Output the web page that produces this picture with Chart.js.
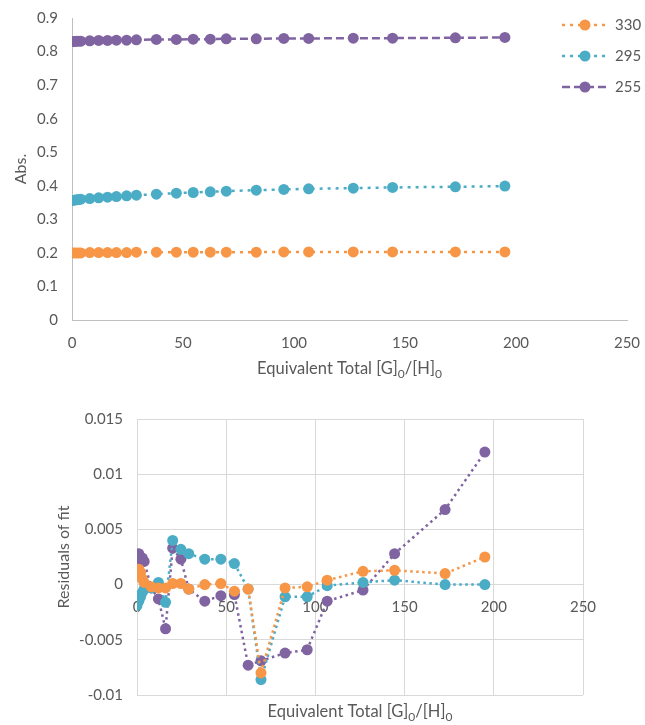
<!DOCTYPE html>
<html>
<head>
<meta charset="utf-8">
<script src="https://cdn.jsdelivr.net/npm/chart.js@4.4.0/dist/chart.umd.min.js"></script>
<style>
  html, body { margin: 0; padding: 0; background: #fff; }
  #wrap { position: relative; width: 645px; height: 725px; }
  canvas { position: absolute; left: 0; }
  #abs { top: 0; }
  #res { top: 385px; }
</style>
</head>
<body>
<div id="wrap">
  <canvas id="abs" width="645" height="385"></canvas>
  <canvas id="res" width="645" height="340"></canvas>
</div>
<script>
// wavelengths (nm) and their colours
const wavelengths = ["330", "295", "255"];
const colors = ["#F79646", "#4BACC6", "#8064A2"];

// equivalents of guest added
const equivalents = [0, 1, 2, 3, 4, 8, 12, 16, 20, 24.6, 29, 38, 47, 54.6, 62.3, 69.5, 83, 95.4, 106.6, 126.7, 144.4, 172.7, 195];

// absorbance readings
const abs330 = [0.200, 0.200, 0.200, 0.200, 0.200, 0.201, 0.201, 0.201, 0.201, 0.201, 0.202, 0.202, 0.202, 0.202, 0.202, 0.202, 0.202, 0.203, 0.203, 0.203, 0.203, 0.203, 0.203];
const abs295 = [0.356, 0.357, 0.358, 0.359, 0.360, 0.362, 0.364, 0.366, 0.368, 0.370, 0.372, 0.375, 0.378, 0.380, 0.382, 0.384, 0.387, 0.389, 0.391, 0.393, 0.395, 0.397, 0.399];
const abs255 = [0.830, 0.830, 0.831, 0.831, 0.831, 0.832, 0.833, 0.833, 0.834, 0.834, 0.835, 0.836, 0.836, 0.837, 0.837, 0.838, 0.838, 0.839, 0.839, 0.840, 0.840, 0.841, 0.842];

// residuals of the binding fit
const res330 = [0.0009, 0.0014, 0.0011, 0.0005, 0.0002, -0.0002, -0.0003, -0.0003, 0.0001, 0.0001, -0.0004, 0.0000, 0.0001, -0.0006, -0.0004, -0.0080, -0.0003, -0.0002, 0.0004, 0.0012, 0.0013, 0.0010, 0.0025];
const res295 = [-0.0019, -0.0015, -0.0011, -0.0007, -0.0004, -0.0003, 0.0002, -0.0016, 0.0040, 0.0032, 0.0028, 0.0023, 0.0023, 0.0019, -0.0004, -0.0086, -0.0011, -0.0011, -0.0001, 0.0002, 0.0004, 0.0000, 0.0000];
const res255 = [0.0027, 0.0028, 0.0022, 0.0024, 0.0021, -0.0003, -0.0013, -0.0040, 0.0033, 0.0023, -0.0004, -0.0015, -0.0010, -0.0009, -0.0073, -0.0069, -0.0062, -0.0059, -0.0015, -0.0005, 0.0028, 0.0068, 0.0120];

const FONT = "Lato";
const GREY = "#595959";

const toPoints = ys => equivalents.map((x, i) => ({ x: x, y: ys[i] }));

// plain number labels, no trailing zeros
const plainTick = v => String(Math.round(v * 1e6) / 1e6);

function makeSet(i, ys, dash, width) {
  return {
    label: wavelengths[i],
    data: toPoints(ys),
    showLine: true,
    borderColor: colors[i],
    backgroundColor: colors[i],
    borderWidth: width,
    borderDash: dash,
    pointRadius: 5.5,
    pointHoverRadius: 5.5,
    pointBorderWidth: 0,
    pointBackgroundColor: colors[i],
  };
}

// text with subscript pieces, centred on (cx, cy)
function drawParts(ctx, parts, cx, cy, size) {
  const big = size + "px " + FONT;
  const small = Math.round(size * 0.7) + "px " + FONT;
  let w = 0;
  parts.forEach(p => { ctx.font = p.sub ? small : big; w += ctx.measureText(p.t).width; });
  let x = cx - w / 2;
  ctx.textAlign = "left";
  ctx.textBaseline = "middle";
  parts.forEach(p => {
    ctx.font = p.sub ? small : big;
    ctx.fillText(p.t, x, cy + (p.sub ? 5 : 0));
    x += ctx.measureText(p.t).width;
  });
}

const xTitle = [{ t: "Equivalent Total [G]" }, { t: "0", sub: true }, { t: "/[H]" }, { t: "0", sub: true }];

const titlesPlugin = {
  id: "titles",
  afterDraw(chart, args, opts) {
    const { ctx, chartArea } = chart;
    ctx.save();
    ctx.fillStyle = GREY;
    drawParts(ctx, xTitle, (chartArea.left + chartArea.right) / 2, opts.xTitleY, 16.5);
    ctx.translate(opts.yTitleX, (chartArea.top + chartArea.bottom) / 2);
    ctx.rotate(-Math.PI / 2);
    ctx.font = "16px " + FONT;
    ctx.textAlign = "center";
    ctx.textBaseline = "middle";
    ctx.fillText(opts.yTitle, 0, 0);
    ctx.restore();
  }
};

// legend: line sample with a marker, like the series themselves
const legendPlugin = {
  id: "lineLegend",
  afterDraw(chart, args, opts) {
    if (!opts.show) return;
    const ctx = chart.ctx;
    ctx.save();
    chart.data.datasets.forEach((ds, i) => {
      const y = opts.top + i * opts.gap;
      ctx.strokeStyle = ds.borderColor;
      ctx.lineWidth = ds.borderWidth;
      ctx.setLineDash(ds.borderDash);
      ctx.beginPath();
      ctx.moveTo(opts.left, y);
      ctx.lineTo(opts.left + 46, y);
      ctx.stroke();
      ctx.setLineDash([]);
      ctx.fillStyle = ds.backgroundColor;
      ctx.beginPath();
      ctx.arc(opts.left + 23, y, 5.5, 0, Math.PI * 2);
      ctx.fill();
      ctx.fillStyle = GREY;
      ctx.font = "15px " + FONT;
      ctx.textAlign = "left";
      ctx.textBaseline = "middle";
      ctx.fillText(ds.label, opts.left + 53, y);
    });
    ctx.restore();
  }
};

const tickFont = { family: FONT, size: 15 };

new Chart(document.getElementById("abs"), {
  type: "scatter",
  data: {
    datasets: [
      makeSet(0, abs330, [3, 5], 2.5),
      makeSet(1, abs295, [3, 5], 2.5),
      makeSet(2, abs255, [8, 4], 2.5),
    ]
  },
  options: {
    responsive: false,
    animation: false,
    layout: { padding: { top: 18, right: 18, left: 0, bottom: 0 } },
    scales: {
      x: {
        type: "linear", min: 0, max: 250,
        ticks: { stepSize: 50, padding: 14, color: GREY, font: tickFont, maxRotation: 0 },
        grid: { display: false, drawTicks: false },
        border: { display: true, color: "#bfbfbf", width: 1 },
        afterFit: s => { s.height = 65; s.paddingLeft = 0; s.paddingRight = 0; }
      },
      y: {
        min: 0, max: 0.9,
        ticks: { stepSize: 0.1, padding: 14, color: GREY, font: tickFont, callback: plainTick },
        grid: { display: false, drawTicks: false },
        border: { display: true, color: "#bfbfbf", width: 1 },
        afterFit: s => { s.width = 72; s.paddingTop = 0; s.paddingBottom = 0; }
      }
    },
    plugins: {
      legend: { display: false },
      tooltip: { enabled: false },
      titles: { xTitleY: 369, yTitleX: 21, yTitle: "Abs." },
      lineLegend: { show: true, left: 562, top: 25, gap: 31 }
    }
  },
  plugins: [titlesPlugin, legendPlugin]
});

new Chart(document.getElementById("res"), {
  type: "scatter",
  data: {
    datasets: [
      makeSet(0, res330, [2.5, 3.5], 2.5),
      makeSet(1, res295, [2.5, 3.5], 2.5),
      makeSet(2, res255, [2.5, 3.5], 2.5),
    ]
  },
  options: {
    responsive: false,
    animation: false,
    layout: { padding: { top: 34, right: 62, left: 0, bottom: 30 } },
    scales: {
      x: {
        type: "linear", min: 0, max: 250,
        position: { y: 0 },
        ticks: { stepSize: 50, padding: 14, color: GREY, font: tickFont, maxRotation: 0 },
        grid: { color: "#d9d9d9", drawTicks: false },
        border: { display: true, color: "#d9d9d9", width: 1 }
      },
      y: {
        min: -0.01, max: 0.015,
        ticks: { stepSize: 0.005, padding: 14, color: GREY, font: tickFont, callback: plainTick },
        grid: { color: "#d9d9d9", drawTicks: false },
        border: { display: true, color: "#d9d9d9", width: 1 },
        afterFit: s => { s.width = 137; }
      }
    },
    plugins: {
      legend: { display: false },
      tooltip: { enabled: false },
      titles: { xTitleY: 327, yTitleX: 64, yTitle: "Residuals of fit" },
      lineLegend: { show: false }
    }
  },
  plugins: [titlesPlugin, legendPlugin]
});
</script>
</body>
</html>
